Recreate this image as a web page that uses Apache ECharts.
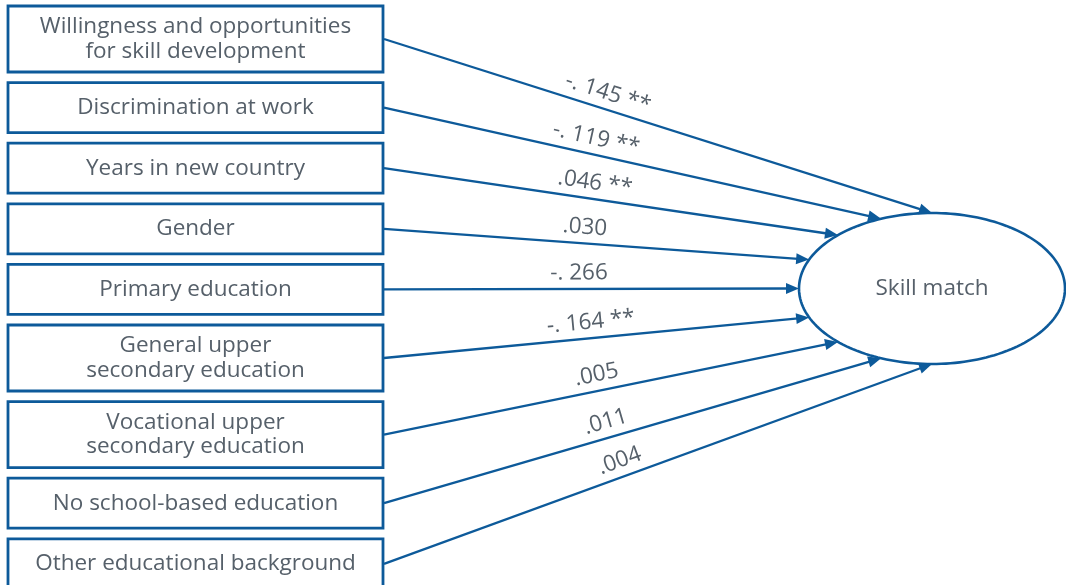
<!DOCTYPE html>
<html>
<head>
<meta charset="utf-8">
<script src="https://cdn.jsdelivr.net/npm/echarts@6/dist/echarts.min.js"></script>
<style>html,body{margin:0;padding:0;background:#fff}#chart{width:1066px;height:585px}</style>
</head>
<body>
<div id="chart"></div>
<script>
// ---- data ----
const predictors = [
  'Willingness and opportunities\nfor skill development',
  'Discrimination at work',
  'Years in new country',
  'Gender',
  'Primary education',
  'General upper\nsecondary education',
  'Vocational upper\nsecondary education',
  'No school-based education',
  'Other educational background'
];
const coefficients = [-0.145, -0.119, 0.046, 0.030, -0.266, -0.164, 0.005, 0.011, 0.004];
const significance = ['**', '**', '**', '', '', '**', '', '', ''];
const outcome = 'Skill match';

// ---- layout / style ----
const W = 1066, H = 585;
const BLUE = '#0d5a9a';
const TEXT = '#56606a';
const FONT = '"Open Sans", "Noto Sans", sans-serif';
const FS = 22.5;
const box = { left: 8, right: 383, top: 6, gap: 10.6, h1: 50, h2: 66 };
const ell = { cx: 932, cy: 288.5, rx: 133, ry: 75.5 };
const labelT = [0.40, 0.42, 0.46, 0.47, 0.47, 0.49, 0.475, 0.455, 0.44]; // label position along each path

const boxes = [];
let yy = box.top;
predictors.forEach(function (p) {
  const h = p.indexOf('\n') >= 0 ? box.h2 : box.h1;
  boxes.push({ y0: yy, y1: yy + h });
  yy += h + box.gap;
});

function fmt(v, s) {
  const d = Math.abs(v).toFixed(3).slice(2);
  let t = v < 0 ? '-. ' + d : '.' + d;
  if (s) t += ' ' + s;
  return t;
}

const chart = echarts.init(document.getElementById('chart'), null, { renderer: 'canvas' });

function renderPath(params, api) {
  const i = api.value(0);
  const b = boxes[i];
  const p0 = api.coord([box.left, b.y0]);
  const p1 = api.coord([box.right, b.y1]);
  const n = predictors.length;
  const th = (270 - i * 180 / (n - 1)) * Math.PI / 180;
  const tip = api.coord([ell.cx + ell.rx * Math.cos(th), ell.cy + ell.ry * Math.sin(th)]);
  const start = [p1[0] + 1, (p0[1] + p1[1]) / 2];
  const dx = tip[0] - start[0], dy = tip[1] - start[1];
  const len = Math.sqrt(dx * dx + dy * dy);
  const ux = dx / len, uy = dy / len;
  const aL = 13, aW = 5.5;
  const base = [tip[0] - ux * aL, tip[1] - uy * aL];
  const t = labelT[i];
  const anchor = [start[0] + dx * t, start[1] + dy * t];
  const ang = Math.atan2(dy, dx);
  const off = 16;
  const lp = [anchor[0] + uy * off, anchor[1] - ux * off];
  return {
    type: 'group',
    children: [
      { type: 'rect', shape: { x: p0[0], y: p0[1], width: p1[0] - p0[0], height: p1[1] - p0[1] },
        style: { fill: '#fff', stroke: BLUE, lineWidth: 2.8 } },
      { type: 'text', x: (p0[0] + p1[0]) / 2, y: (p0[1] + p1[1]) / 2,
        style: { text: predictors[i], fill: TEXT, font: FS + 'px ' + FONT, align: 'center', verticalAlign: 'middle', lineHeight: 24.5 } },
      { type: 'line', shape: { x1: start[0], y1: start[1], x2: base[0] + ux * 2, y2: base[1] + uy * 2 },
        style: { stroke: BLUE, lineWidth: 2.3 } },
      { type: 'polygon', shape: { points: [tip, [base[0] - uy * aW, base[1] + ux * aW], [base[0] + uy * aW, base[1] - ux * aW]] },
        style: { fill: BLUE } },
      { type: 'text', x: lp[0], y: lp[1], rotation: -ang,
        style: { text: fmt(coefficients[i], significance[i]), fill: TEXT, font: FS + 'px ' + FONT, align: 'center', verticalAlign: 'middle' } }
    ]
  };
}

function renderEllipse(params, api) {
  const pts = [];
  for (let k = 0; k < 180; k++) {
    const a = k / 180 * Math.PI * 2;
    pts.push(api.coord([ell.cx + ell.rx * Math.cos(a), ell.cy + ell.ry * Math.sin(a)]));
  }
  const c = api.coord([ell.cx, ell.cy]);
  return {
    type: 'group',
    children: [
      { type: 'polygon', shape: { points: pts }, style: { fill: '#fff', stroke: BLUE, lineWidth: 2.6 } },
      { type: 'text', x: c[0], y: c[1], style: { text: outcome, fill: TEXT, font: FS + 'px ' + FONT, align: 'center', verticalAlign: 'middle' } }
    ]
  };
}

chart.setOption({
  animation: false,
  grid: { left: 0, right: 0, top: 0, bottom: 0 },
  xAxis: { type: 'value', min: 0, max: W, show: false },
  yAxis: { type: 'value', min: 0, max: H, inverse: true, show: false },
  series: [
    { type: 'custom', renderItem: renderEllipse, data: [[0]], z: 2 },
    { type: 'custom', renderItem: renderPath, data: predictors.map(function (p, i) { return [i]; }), z: 3 }
  ]
});
</script>
</body>
</html>
